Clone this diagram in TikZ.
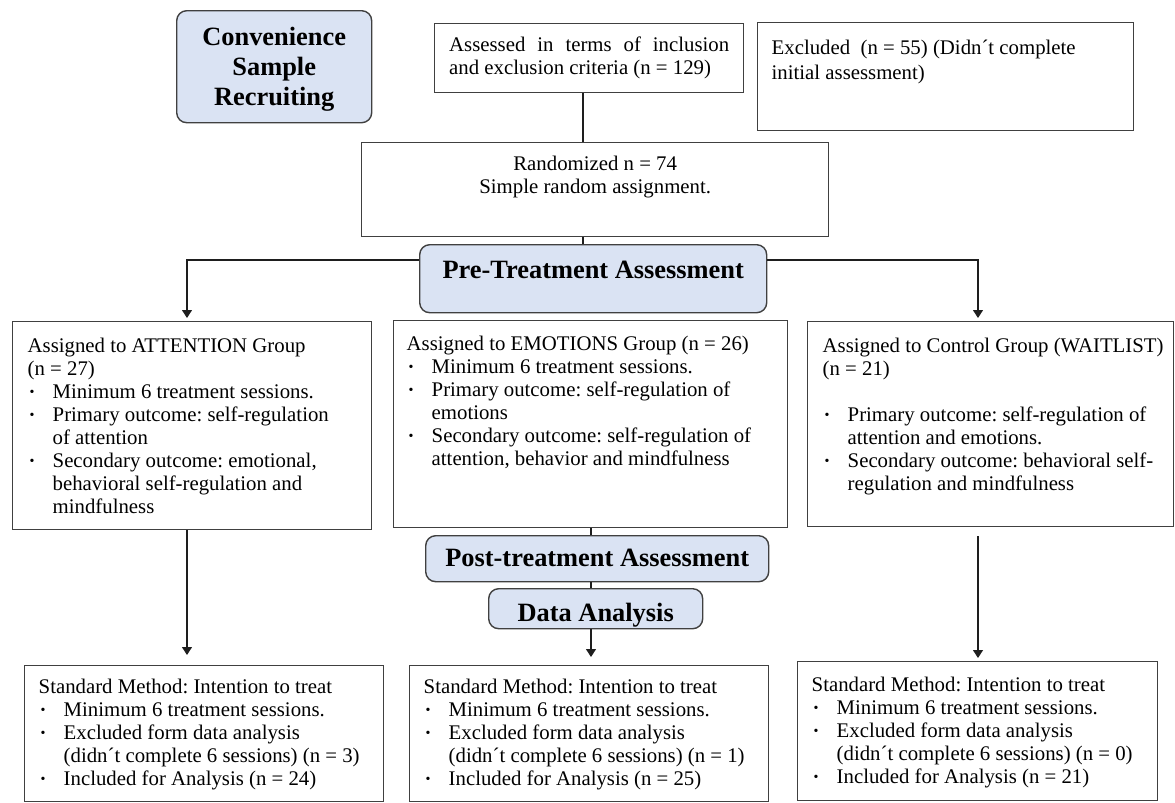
\documentclass[tikz,border=0pt]{standalone}
\usepackage{fontspec}
\setmainfont{Liberation Serif}
\usetikzlibrary{calc,arrows.meta}
\frenchspacing

\definecolor{hdrfill}{RGB}{218,227,243}
\definecolor{boxline}{RGB}{64,64,64}
\definecolor{flow}{RGB}{30,30,30}

\newcommand{\itm}{\par\noindent\hangindent=12.5pt\hangafter=1\makebox[12.5pt][l]{\hspace{1pt}\raisebox{0.9pt}{\fontsize{7}{7}\selectfont\textbullet}}}
\newcommand{\boxtext}[5]{\hspace*{#1}\parbox[t][\dimexpr#3-#4*2\relax][t]{\dimexpr#2-#1\relax}{\raggedright\strut#5}}

\tikzset{
  body/.style={font=\fontsize{10.4}{11.5}\selectfont},
  head/.style={font=\fontsize{13.2}{15}\selectfont\bfseries},
  frame/.style={draw=boxline, line width=0.7pt, inner sep=0pt, anchor=north west},
  hdr/.style={frame, fill=hdrfill, rounded corners=5pt},
  arr/.style={draw=flow, line width=0.6pt, -{Triangle[length=4pt,width=5pt]}},
  link/.style={draw=flow, line width=0.6pt}
}

\begin{document}
\begin{tikzpicture}[x=0.5pt, y=-0.5pt]
  \useasboundingbox (0,0) rectangle (1175,803);

  % stages
  \node[hdr, head, minimum width=97.5pt, minimum height=56pt, align=center, text depth=0pt] (conv) at (176,10) {Convenience\\Sample\\Recruiting};
  \node[hdr, head, minimum width=173.5pt, minimum height=34pt, text height=8.5pt, text depth=8.5pt] (pre) at (419,244) {Pre-Treatment Assessment};
  \node[hdr, head, minimum width=171.5pt, minimum height=23pt, text height=8pt, text depth=0pt] (post) at (425,535) {Post-treatment Assessment};
  \node[hdr, head, minimum width=107pt, minimum height=20pt, text height=13pt, text depth=0pt] (data) at (488,588) {Data Analysis};

  % enrolment
  \node[frame, body, minimum width=154.5pt, minimum height=34.5pt, text width=140pt, align=justify] (assess) at (434,23) {Assessed in terms of inclusion\linebreak and exclusion criteria (n = 129)};
  \node[frame, body, minimum width=188pt, minimum height=54pt] (excl) at (757,22) {\boxtext{7pt}{188pt}{54pt}{7.65pt}{\fontsize{10.4}{12.5}\selectfont Excluded\ \ (n = 55) (Didn\textasciiacute t complete\\initial assessment)}};
  \node[frame, body, minimum width=233.5pt, minimum height=47pt] (rand) at (361,142) {\boxtext{0pt}{233.5pt}{47pt}{5.65pt}{\centering Randomized n = 74\\Simple random assignment.}};

  % groups
  \node[frame, body, minimum width=179.5pt, minimum height=104pt] (att) at (12,321) {\boxtext{7.5pt}{179.5pt}{104pt}{7.15pt}{Assigned to ATTENTION Group\\(n = 27)
    \itm Minimum 6 treatment sessions.
    \itm Primary outcome: self-regulation\newline of attention
    \itm Secondary outcome: emotional,\newline behavioral self-regulation and\newline mindfulness}};
  \node[frame, body, minimum width=197pt, minimum height=103.5pt] (emo) at (393,320) {\boxtext{6.5pt}{197pt}{103.5pt}{6.65pt}{Assigned to EMOTIONS Group (n = 26)
    \itm Minimum 6 treatment sessions.
    \itm Primary outcome: self-regulation of\newline emotions
    \itm Secondary outcome: self-regulation of\newline attention, behavior and mindfulness}};
  \node[frame, body, minimum width=183pt, minimum height=102.5pt] (ctl) at (807,321) {\boxtext{7.5pt}{183pt}{102.5pt}{7.15pt}{Assigned to Control Group (WAITLIST)\\(n = 21)\par\vspace{\baselineskip}
    \itm Primary outcome: self-regulation of\newline attention and emotions.
    \itm Secondary outcome: behavioral self-\newline regulation and mindfulness}};

  % analysis
  \node[frame, body, minimum width=179.5pt, minimum height=68pt] (sml) at (24,665) {\boxtext{7pt}{179.5pt}{68pt}{5.65pt}{Standard Method: Intention to treat
    \itm Minimum 6 treatment sessions.
    \itm Excluded form data analysis\newline (didn\textasciiacute t complete 6 sessions) (n = 3)
    \itm Included for Analysis (n = 24)}};
  \node[frame, body, minimum width=179.5pt, minimum height=68pt] (smm) at (409,665) {\boxtext{7pt}{179.5pt}{68pt}{5.65pt}{Standard Method: Intention to treat
    \itm Minimum 6 treatment sessions.
    \itm Excluded form data analysis\newline (didn\textasciiacute t complete 6 sessions) (n = 1)
    \itm Included for Analysis (n = 25)}};
  \node[frame, body, minimum width=180pt, minimum height=69.5pt] (smr) at (797,661) {\boxtext{7pt}{180pt}{69.5pt}{6.65pt}{Standard Method: Intention to treat
    \itm Minimum 6 treatment sessions.
    \itm Excluded form data analysis\newline (didn\textasciiacute t complete 6 sessions) (n = 0)
    \itm Included for Analysis (n = 21)}};

  % connectors
  \coordinate (sp) at (583,0);
  \coordinate (pl) at (187,260);
  \coordinate (pr) at (978,260);
  \coordinate (mc) at (591,0);
  \draw[link] (assess.south -| sp) -- (rand.north -| sp);
  \draw[link] (rand.south -| sp) -- (pre.north -| sp);
  \draw[arr, shorten >=1.5pt] (pre.west |- pl) -- (pl) -- (att.north -| pl);
  \draw[arr, shorten >=1.5pt] (pre.east |- pr) -- (pr) -- (ctl.north -| pr);
  \draw[link] (emo.south -| mc) -- (post.north -| mc);
  \draw[link] (post.south -| mc) -- (data.north -| mc);
  \draw[arr, shorten >=4pt] (data.south -| mc) -- (smm.north -| mc);
  \draw[arr, shorten >=5pt] (att.south -| pl) -- (sml.north -| pl);
  \draw[arr, shorten >=1.5pt] ($(ctl.south -| pr)+(0,9)$) -- (smr.north -| pr);
\end{tikzpicture}
\end{document}
